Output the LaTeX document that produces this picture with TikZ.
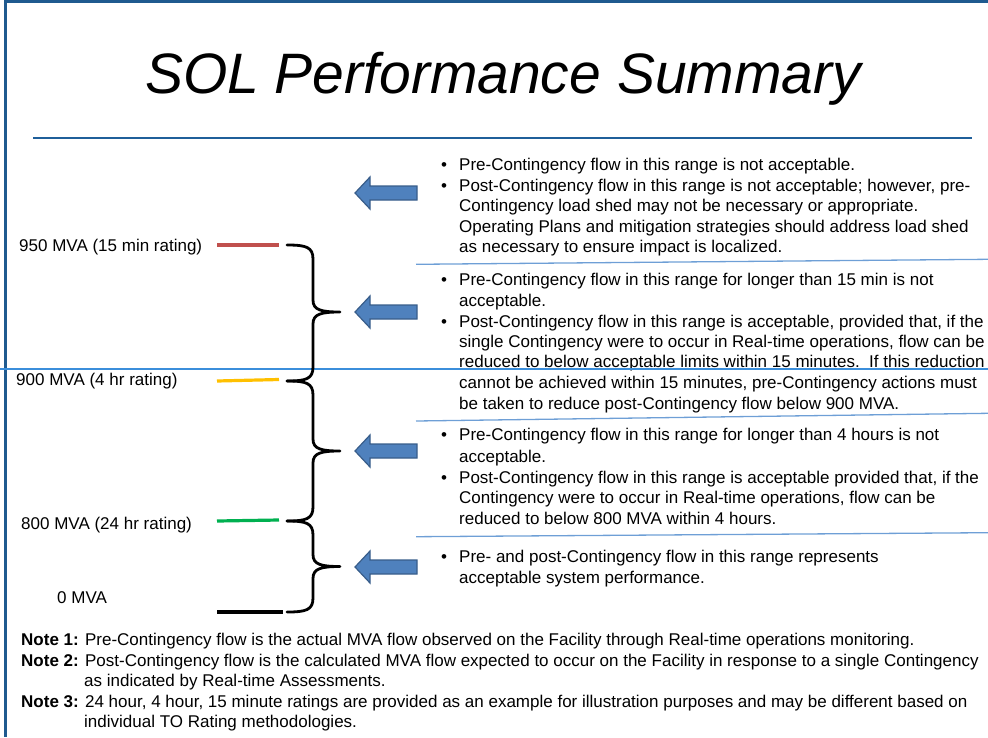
\documentclass[tikz,border=0pt]{standalone}
\usepackage{fontspec}
\setmainfont{Liberation Sans}
\definecolor{frameblue}{HTML}{1F5A8F}
\definecolor{ruleblue}{HTML}{1F5F9A}
\definecolor{splitblue}{HTML}{3B8EDB}
\definecolor{sepblue}{HTML}{6E9FD6}
\definecolor{arrowfill}{HTML}{4F81BD}
\definecolor{arrowdraw}{HTML}{385D8A}
\definecolor{ratred}{HTML}{C0504D}
\definecolor{ratyellow}{HTML}{FFC000}
\definecolor{ratgreen}{HTML}{00B050}
\newcommand\bodyline[3]{\node[bodytext] (#1) at (459,#2) {#3};}
\newcommand\bulletmark[2]{\node[bulletsty] (#1) at (441,#2) {\textbullet};}
\newcommand\blockarrow[2]{%
  \coordinate (#1) at (355,#2);
  \path[blockarr] (#1) -- ++(15,-16) -- ++(0,9) -- ++(47,0) -- ++(0,14) -- ++(-47,0) -- ++(0,9) -- cycle;}
\newcommand\rangebrace[3]{%
  \draw[bracesty] (287,#1) .. controls (306,#1) and (313,#1+2) .. (313,#1+14)
    -- (313,#2-12) .. controls (313,#2-2) and (321,#2) .. (340,#2)
    .. controls (321,#2) and (313,#2+2) .. (313,#2+12)
    -- (313,#3-14) .. controls (313,#3-2) and (306,#3) .. (287,#3);}
\begin{document}
\begin{tikzpicture}[x=1pt,y=-1pt,
  bodytext/.style={anchor=base west,inner sep=0,font=\fontsize{17}{20}\selectfont},
  bulletsty/.style={anchor=base west,inner sep=0,font=\fontsize{17}{20}\selectfont},
  ratinglbl/.style={anchor=base west,inner sep=0,font=\fontsize{17}{20}\selectfont},
  notetext/.style={anchor=base west,inner sep=0,font=\fontsize{17}{19}\selectfont},
  framerule/.style={draw=frameblue,line width=3},
  ratingline/.style={line width=3.2},
  sepline/.style={draw=sepblue,line width=1.3},
  blockarr/.style={fill=arrowfill,draw=arrowdraw,line width=1.2,line join=miter},
  bracesty/.style={draw=black,line width=2.8,line join=round,line cap=round}]
\useasboundingbox (0,0) rectangle (988,737);
% frame
\draw[framerule] (4,1.5) -- (988,1.5);
\draw[framerule] (5,0) -- (5,737);
% title
\node[anchor=base,inner sep=0,font=\fontsize{57}{60}\selectfont\itshape] (title) at (503,93) {SOL Performance Summary};
\draw[draw=ruleblue,line width=2.5] (33,138) -- (972,138);
% rating labels
\node[ratinglbl] (r950) at (19,251.7) {950 MVA (15 min rating)};
\node[ratinglbl] (r900) at (16,385.7) {900 MVA (4 hr rating)};
\node[ratinglbl] (r800) at (21,529) {800 MVA (24 hr rating)};
\node[ratinglbl] (r0) at (57,603.3) {0 MVA};
% rating lines
\draw[ratingline,draw=ratred] (217,245) -- (279,245);
\draw[ratingline,draw=ratyellow] (217,381) -- (279,379.5);
\draw[ratingline,draw=ratgreen] (217,521) -- (279,520);
\draw[ratingline,draw=black] (217,612) -- (283,612);
% separators
\draw[sepline] (416,264.3) -- (988,259.3);
\draw[sepline] (416,421) -- (988,413.3);
\draw[sepline] (416,536.7) -- (988,532.7);
% arrows
\blockarrow{a1}{193}
\blockarrow{a2}{312}
\blockarrow{a3}{451}
\blockarrow{a4}{567}
% block 1
\bulletmark{b1a}{170.7}
\bulletmark{b1b}{191.3}
\bodyline{t11}{170.7}{Pre-Contingency flow in this range is not acceptable.}
\bodyline{t12}{191.3}{Post-Contingency flow in this range is not acceptable; however, pre-}
\bodyline{t13}{211.6}{Contingency load shed may not be necessary or appropriate.}
\bodyline{t14}{232}{Operating Plans and mitigation strategies should address load shed}
\bodyline{t15}{252.3}{as necessary to ensure impact is localized.}
% block 2
\bulletmark{b2a}{285.7}
\bulletmark{b2b}{327.3}
\bodyline{t21}{285.7}{Pre-Contingency flow in this range for longer than 15 min is not}
\bodyline{t22}{306.3}{acceptable.}
\bodyline{t23}{327.3}{Post-Contingency flow in this range is acceptable, provided that, if the}
\bodyline{t24}{347.3}{single Contingency were to occur in Real-time operations, flow can be}
\bodyline{t25}{367.3}{reduced to below acceptable limits within 15 minutes.\ \ If this reduction}
\bodyline{t26}{388}{cannot be achieved within 15 minutes, pre-Contingency actions must}
\bodyline{t27}{409}{be taken to reduce post-Contingency flow below 900 MVA.}
% block 3
\bulletmark{b3a}{440.7}
\bulletmark{b3b}{483}
\bodyline{t31}{440.7}{Pre-Contingency flow in this range for longer than 4 hours is not}
\bodyline{t32}{462.3}{acceptable.}
\bodyline{t33}{483}{Post-Contingency flow in this range is acceptable provided that, if the}
\bodyline{t34}{503.3}{Contingency were to occur in Real-time operations, flow can be}
\bodyline{t35}{524}{reduced to below 800 MVA within 4 hours.}
% block 4
\bulletmark{b4a}{562.3}
\bodyline{t41}{562.3}{Pre- and post-Contingency flow in this range represents}
\bodyline{t42}{583}{acceptable system performance.}
% notes
\node[notetext] (n1) at (21,645.5) {\textbf{Note 1:} Pre-Contingency flow is the actual MVA flow observed on the Facility through Real-time operations monitoring.};
\node[notetext] (n2) at (21,666) {\textbf{Note 2:} Post-Contingency flow is the calculated MVA flow expected to occur on the Facility in response to a single Contingency};
\node[notetext] (n2b) at (84,686.5) {as indicated by Real-time Assessments.};
\node[notetext] (n3) at (21,707) {\textbf{Note 3:} 24 hour, 4 hour, 15 minute ratings are provided as an example for illustration purposes and may be different based on};
\node[notetext] (n3b) at (84,727) {individual TO Rating methodologies.};
% split line
\draw[draw=splitblue,line width=2.5] (0,369) -- (988,369);
% braces
\rangebrace{245}{312}{381}
\rangebrace{381}{451}{521}
\rangebrace{521}{566.5}{612}
\end{tikzpicture}
\end{document}
